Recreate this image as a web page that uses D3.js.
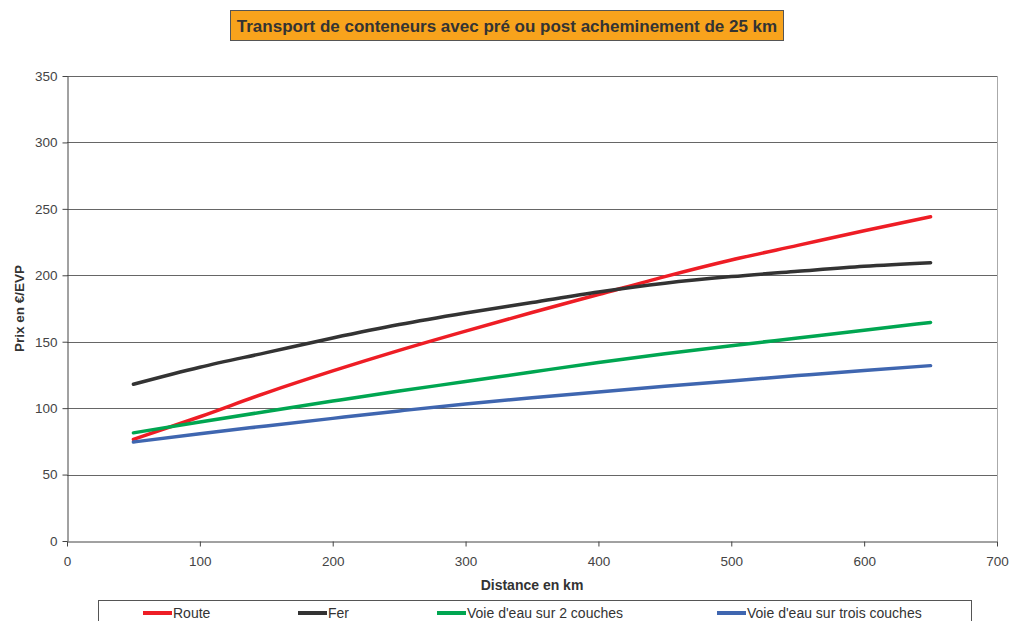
<!DOCTYPE html>
<html>
<head>
<meta charset="utf-8">
<script src="https://cdn.jsdelivr.net/npm/d3@7"></script>
<style>
  html, body { margin: 0; padding: 0; background: #fff; }
  svg { display: block; font-family: "Liberation Sans", Arial, sans-serif; }
</style>
</head>
<body>
<svg id="chart" width="1012" height="621"></svg>
<script>
// Distances (km) at which prices are computed
const distances = [50, 100, 150, 200, 250, 300, 350, 400, 450, 500, 550, 600, 650];

// Price per TEU (€/EVP) for each transport mode
const route      = [76.5, 93.5, 111.5, 128, 143.5, 158, 172, 185.5, 199, 211.5, 222.5, 233.5, 244];
const fer        = [118, 130.8, 141.8, 152.8, 162.9, 171.6, 179.5, 187.4, 194, 199, 203, 206.8, 209.5];
const voie2      = [81.4, 89.5, 97.5, 105.3, 112.9, 120, 127.2, 134.3, 140.9, 147, 152.8, 158.6, 164.5];
const voie3      = [74.5, 80.8, 86.6, 92.3, 97.9, 103.2, 107.8, 112.2, 116.4, 120.5, 124.5, 128.4, 132];

const seriesNames  = ["Route", "Fer", "Voie d'eau sur 2 couches", "Voie d'eau sur trois couches"];
const seriesColors = ["#ee1d25", "#333333", "#00a651", "#3f66b0"];

const xTicks = [0, 100, 200, 300, 400, 500, 600, 700];
const yTicks = [0, 50, 100, 150, 200, 250, 300, 350];

const titleText = "Transport de conteneurs avec pré ou post acheminement de 25 km";
const xTitle = "Distance en km";
const yTitle = "Prix en €/EVP";

const series = [route, fer, voie2, voie3].map((vals, i) => ({
  name: seriesNames[i],
  color: seriesColors[i],
  points: distances.map((d, j) => [d, vals[j]])
}));

const svg = d3.select("#chart");
const plot = { left: 67, right: 997, top: 76, bottom: 541 };

const x = d3.scaleLinear().domain([0, 700]).range([plot.left, plot.right]);
const y = d3.scaleLinear().domain([0, 350]).range([plot.bottom, plot.top]);

// Title box
const title = svg.append("g");
title.append("rect")
  .attr("x", 230.5).attr("y", 10.5).attr("width", 553).attr("height", 30)
  .attr("fill", "#f8a31c").attr("stroke", "#555").attr("stroke-width", 1);
title.append("text")
  .attr("x", 507).attr("y", 31.5)
  .attr("text-anchor", "middle")
  .attr("font-size", 17).attr("font-weight", "bold").attr("fill", "#333")
  .text(titleText);

// Horizontal gridlines
svg.append("g")
  .selectAll("line")
  .data(yTicks.filter(t => t > 0))
  .join("line")
  .attr("x1", plot.left).attr("x2", plot.right)
  .attr("y1", d => Math.round(y(d)) + 0.5).attr("y2", d => Math.round(y(d)) + 0.5)
  .attr("stroke", "#666").attr("stroke-width", 1);

// Right border of the plot area
svg.append("line")
  .attr("x1", plot.right + 0.5).attr("x2", plot.right + 0.5)
  .attr("y1", plot.top).attr("y2", plot.bottom)
  .attr("stroke", "#aaa").attr("stroke-width", 1);

// Axes
const xAxis = svg.append("g")
  .attr("transform", `translate(0,${plot.bottom + 0.5})`)
  .call(d3.axisBottom(x).tickValues(xTicks).tickSize(5).tickSizeOuter(0));
const yAxis = svg.append("g")
  .attr("transform", `translate(${plot.left + 0.5},0)`)
  .call(d3.axisLeft(y).tickValues(yTicks).tickSize(5).tickSizeOuter(0));

[xAxis, yAxis].forEach(ax => {
  ax.select(".domain").attr("stroke", "#444");
  ax.selectAll(".tick line").attr("stroke", "#444");
  ax.selectAll(".tick text")
    .attr("font-size", 13.5).attr("fill", "#444")
    .attr("font-family", "Liberation Sans, Arial, sans-serif");
});
xAxis.selectAll(".tick text").attr("dy", "0.71em").attr("y", 15);
yAxis.selectAll(".tick text").attr("x", -10);

// Axis titles
svg.append("text")
  .attr("x", (plot.left + plot.right) / 2).attr("y", 590)
  .attr("text-anchor", "middle")
  .attr("font-size", 14).attr("font-weight", "bold").attr("fill", "#333")
  .text(xTitle);
svg.append("text")
  .attr("transform", `translate(24,${(plot.top + plot.bottom) / 2}) rotate(-90)`)
  .attr("text-anchor", "middle")
  .attr("font-size", 13.5).attr("font-weight", "bold").attr("fill", "#333")
  .text(yTitle);

// Series lines
const line = d3.line()
  .x(d => x(d[0]))
  .y(d => y(d[1]))
  .curve(d3.curveMonotoneX);

svg.append("g")
  .selectAll("path")
  .data(series)
  .join("path")
  .attr("d", d => line(d.points))
  .attr("fill", "none")
  .attr("stroke", d => d.color)
  .attr("stroke-width", 3.5)
  .attr("stroke-linecap", "round");

// Legend
const legend = svg.append("g");
legend.append("rect")
  .attr("x", 98.5).attr("y", 600.5).attr("width", 873).attr("height", 40)
  .attr("fill", "#fff").attr("stroke", "#555").attr("stroke-width", 1);

const legendX = [143, 298, 437, 717];
const items = legend.selectAll("g.item")
  .data(series)
  .join("g")
  .attr("class", "item")
  .attr("transform", (d, i) => `translate(${legendX[i]},613)`);
items.append("line")
  .attr("x1", 0).attr("x2", 29).attr("y1", 0).attr("y2", 0)
  .attr("stroke", d => d.color).attr("stroke-width", 4);
items.append("text")
  .attr("x", 30).attr("y", 5)
  .attr("font-size", 14).attr("fill", "#333")
  .text(d => d.name);
</script>
</body>
</html>
